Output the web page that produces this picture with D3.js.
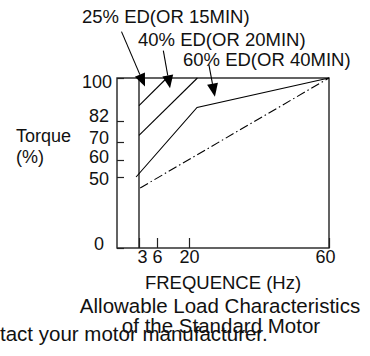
<!DOCTYPE html>
<html>
<head>
<meta charset="utf-8">
<script src="https://cdn.jsdelivr.net/npm/d3@7"></script>
<style>
body{margin:0;background:#fff;}
text{font-family:"Liberation Sans",Arial,sans-serif;fill:#111;}
</style>
</head>
<body>
<svg id="chart" width="370" height="356"></svg>
<script>
// tick values
var freqTicks=[3,6,20,60];
var torqueTicks=[0,50,60,70,82,100];
// curves, [Hz, torque %]
var ed25=[[3,88.4],[10.3,100]];
var ed40=[[3,73.8],[22.4,100]];
var ed60=[[2.6,50],[22.3,87.7],[60,100]];
var continuous=[[3.2,42.3],[60,100]];
// annotations
var edLabels=["25% ED(OR 15MIN)","40% ED(OR 20MIN)","60% ED(OR 40MIN)"];
var arrowTips=[[4.0,96.4],[11.7,95.7],[27.4,92.2]];

var margin={top:78,left:117},
    width=212,
    height=170;

var svg=d3.select("#chart");
var g=svg.append("g").attr("transform","translate("+margin.left+","+margin.top+")");

// the printed axes are not linear, so the scales are piecewise
var x=d3.scaleLinear().domain([0,3,6,20,60]).range([0,22,40,72,width]);
var y=d3.scaleLinear().domain([0,50,60,70,82,100]).range([height,99,82,64,43,0]);

var line=d3.line().x(function(d){return x(d[0]);}).y(function(d){return y(d[1]);});

// y axis, ticks pointing inward
var yAxis=g.append("g")
  .call(d3.axisLeft(y).tickValues(torqueTicks).tickSizeInner(-7).tickSizeOuter(0).tickPadding(8));
yAxis.select(".domain").remove();
yAxis.selectAll("line").attr("stroke","#222").attr("stroke-width",1.2);
var yNudge={100:3,82:-6,70:-5,60:-4,50:1,0:-5};
yAxis.selectAll("text").style("font-size","18px").attr("fill","#111")
  .attr("dx",function(d){return d===100?"3px":(d===0?"-5px":0);})
  .attr("dy",function(d){return (yNudge[d]+6)+"px";});

// x axis
var xAxis=g.append("g").attr("transform","translate(0,"+height+")")
  .call(d3.axisBottom(x).tickValues(freqTicks).tickSizeInner(-10).tickSizeOuter(0).tickPadding(2));
xAxis.select(".domain").remove();
xAxis.selectAll("line").attr("stroke","#222").attr("stroke-width",1.2);
xAxis.selectAll("text").style("font-size","18px").attr("fill","#111")
  .attr("dx",function(d){return d===3?"3px":(d===60?"-4px":0);});

// frame and 3 Hz line
g.append("rect").attr("width",width).attr("height",height)
  .attr("fill","none").attr("stroke","#222").attr("stroke-width",1.4);
g.append("line").attr("x1",x(3)).attr("x2",x(3)).attr("y1",0).attr("y2",height)
  .attr("stroke","#222").attr("stroke-width",1.4);

[ed25,ed40,ed60].forEach(function(s){
  g.append("path").datum(s).attr("d",line)
    .attr("fill","none").attr("stroke","#000").attr("stroke-width",1.1);
});
g.append("path").datum(continuous).attr("d",line)
  .attr("fill","none").attr("stroke","#000").attr("stroke-width",1.1)
  .attr("stroke-dasharray","9,3,1.5,3");

// labels with arrows
var labelPos=[[82,23],[138,45.5],[183,66]];
var tails=[[-23.5,-55],[-6.7,-37.6],[-6,-32]];
edLabels.forEach(function(t,i){
  svg.append("text").attr("x",labelPos[i][0]).attr("y",labelPos[i][1])
    .style("font-size","18.5px").text(t);
  var tx=margin.left+x(arrowTips[i][0]), ty=margin.top+y(arrowTips[i][1]);
  var sx=tx+tails[i][0], sy=ty+tails[i][1];
  var len=Math.sqrt((tx-sx)*(tx-sx)+(ty-sy)*(ty-sy));
  var ux=(tx-sx)/len, uy=(ty-sy)/len;
  var bx=tx-13*ux, by=ty-13*uy;
  svg.append("line").attr("x1",sx).attr("y1",sy).attr("x2",bx).attr("y2",by)
    .attr("stroke","#000").attr("stroke-width",1.1);
  svg.append("path")
    .attr("d","M"+tx+","+ty+"L"+(bx-5.5*uy)+","+(by+5.5*ux)+"L"+(bx+5.5*uy)+","+(by-5.5*ux)+"Z")
    .attr("fill","#000");
});

// axis titles
svg.append("text").attr("x",16).attr("y",142).style("font-size","18px").text("Torque");
svg.append("text").attr("x",16).attr("y",163).style("font-size","18px").text("(%)");
svg.append("text").attr("x",margin.left+width/2).attr("y",289).attr("text-anchor","middle")
  .style("font-size","18.5px").text("FREQUENCE (Hz)");
svg.append("text").attr("x",220).attr("y",313).attr("text-anchor","middle")
  .style("font-size","20.5px").text("Allowable Load Characteristics");
svg.append("text").attr("x",221).attr("y",333).attr("text-anchor","middle")
  .style("font-size","20.5px").text("of the Standard Motor");
svg.append("text").attr("x",0).attr("y",341)
  .style("font-size","20.5px").text("tact your motor manufacturer.");
</script>
</body>
</html>
